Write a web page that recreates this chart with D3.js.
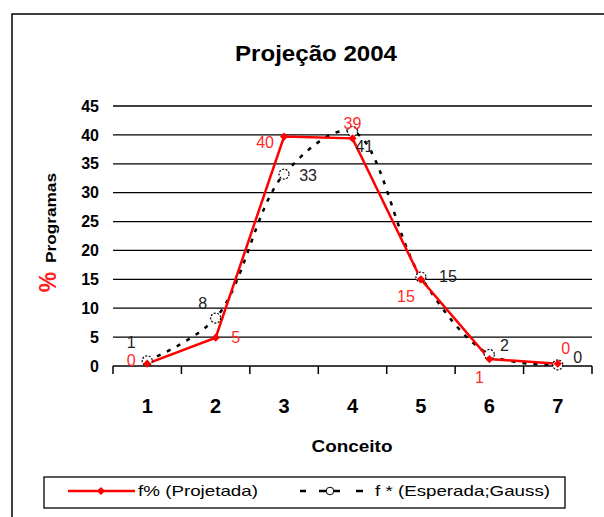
<!DOCTYPE html>
<html lang="pt">
<head>
    <meta charset="UTF-8">
    <title>Projeção 2004</title>
    <script src="https://d3js.org/d3.v7.min.js"></script>
    <style>
        body { margin: 0; padding: 0; background: #fff; }
        svg { display: block; font-family: "Liberation Sans", Arial, sans-serif; }
    </style>
</head>
<body>
<svg id="chart" width="604" height="517"></svg>
<script>
    // Chart data
    var conceitos = ["1", "2", "3", "4", "5", "6", "7"];
    var projetada = [0.4, 4.9, 39.7, 39.4, 15.0, 1.2, 0.4];   // f% (Projetada)
    var esperada  = [0.9, 8.3, 33.2, 40.6, 15.4, 2.0, 0.2];   // f* (Esperada;Gauss)
    var yTicks = [0, 5, 10, 15, 20, 25, 30, 35, 40, 45];

    // label offsets (px) for the value labels
    var redOff   = [[-16, -3], [20, 0], [-19, 6], [0, -15], [-15, 17], [-10, 18], [8, -15]];
    var blackOff = [[-16, -18], [-13, -15], [24, 1], [12, 15], [27, -1], [15, -9], [20, -7]];

    var svg = d3.select("#chart");

    // outer frame (runs past the window on the right and bottom)
    svg.append("rect")
        .attr("x", 12).attr("y", 14)
        .attr("width", 700).attr("height", 600)
        .attr("fill", "none").attr("stroke", "#000").attr("stroke-width", 1.5);

    svg.append("text")
        .attr("x", 316).attr("y", 61)
        .attr("text-anchor", "middle")
        .attr("font-size", 22).attr("font-weight", "bold")
        .attr("textLength", 162).attr("lengthAdjust", "spacingAndGlyphs")
        .text("Projeção 2004");

    var plotLeft = 113, plotRight = 592, plotTop = 106, plotBottom = 366;

    var x = d3.scaleBand().domain(conceitos).range([plotLeft, plotRight]);
    var y = d3.scaleLinear().domain([0, 45]).range([plotBottom, plotTop]);
    var cx = function(i) { return x(conceitos[i]) + x.bandwidth() / 2; };

    // gridlines
    svg.append("g").selectAll("line")
        .data(yTicks.slice(1))
        .enter().append("line")
        .attr("x1", plotLeft).attr("x2", plotRight)
        .attr("y1", function(d) { return y(d); })
        .attr("y2", function(d) { return y(d); })
        .attr("stroke", "#000").attr("stroke-width", 1.3);

    // y axis labels
    var yAxis = d3.axisLeft(y).tickValues(yTicks).tickSize(0).tickPadding(0);
    var gy = svg.append("g").attr("transform", "translate(" + (plotLeft - 14) + ",0)").call(yAxis);
    gy.select(".domain").remove();
    gy.selectAll("text")
        .attr("font-size", 16).attr("font-weight", "bold")
        .attr("font-family", "Liberation Sans, Arial, sans-serif")
        .attr("fill", "#000");

    // x axis with ticks between categories
    svg.append("line")
        .attr("x1", plotLeft).attr("x2", plotRight)
        .attr("y1", plotBottom).attr("y2", plotBottom)
        .attr("stroke", "#000").attr("stroke-width", 1.5);
    var bounds = conceitos.map(function(c) { return x(c); }).concat([plotRight]);
    svg.append("g").selectAll("line")
        .data(bounds)
        .enter().append("line")
        .attr("x1", function(d) { return d; }).attr("x2", function(d) { return d; })
        .attr("y1", plotBottom).attr("y2", plotBottom + 8)
        .attr("stroke", "#000").attr("stroke-width", 1.5);
    svg.append("g").selectAll("text")
        .data(conceitos)
        .enter().append("text")
        .attr("x", function(d, i) { return cx(i); })
        .attr("y", 413)
        .attr("text-anchor", "middle")
        .attr("font-size", 20).attr("font-weight", "bold")
        .text(function(d) { return d; });

    svg.append("text")
        .attr("x", 352).attr("y", 452)
        .attr("text-anchor", "middle")
        .attr("font-size", 17).attr("font-weight", "bold")
        .attr("textLength", 81).attr("lengthAdjust", "spacingAndGlyphs")
        .text("Conceito");

    // y title
    svg.append("text")
        .attr("transform", "translate(56,282) rotate(-90)")
        .attr("text-anchor", "middle")
        .attr("font-size", 23).attr("font-weight", "bold")
        .attr("fill", "#ff2020")
        .text("%");
    svg.append("text")
        .attr("transform", "translate(56,218) rotate(-90)")
        .attr("text-anchor", "middle")
        .attr("font-size", 14).attr("font-weight", "bold")
        .attr("textLength", 90).attr("lengthAdjust", "spacingAndGlyphs")
        .text("Programas");

    // Gauss curve (smoothed, dashed)
    var lineG = d3.line()
        .x(function(d, i) { return cx(i); })
        .y(function(d) { return y(d); })
        .curve(d3.curveCatmullRom.alpha(0.5));
    svg.append("path")
        .datum(esperada)
        .attr("d", lineG)
        .attr("fill", "none").attr("stroke", "#000")
        .attr("stroke-width", 2.5).attr("stroke-dasharray", "4,7");

    // projected line
    var lineP = d3.line()
        .x(function(d, i) { return cx(i); })
        .y(function(d) { return y(d); });
    svg.append("path")
        .datum(projetada)
        .attr("d", lineP)
        .attr("fill", "none").attr("stroke", "#ff0000").attr("stroke-width", 2.5);

    // markers
    svg.append("g").selectAll("circle")
        .data(esperada)
        .enter().append("circle")
        .attr("cx", function(d, i) { return cx(i); })
        .attr("cy", function(d) { return y(d); })
        .attr("r", 5)
        .attr("fill", "#fff").attr("stroke", "#000")
        .attr("stroke-width", 1.2).attr("stroke-dasharray", "2,1.5");

    var diamond = d3.symbol().type(d3.symbolSquare).size(34);
    svg.append("g").selectAll("path")
        .data(projetada)
        .enter().append("path")
        .attr("d", diamond)
        .attr("transform", function(d, i) { return "translate(" + cx(i) + "," + y(d) + ") rotate(45)"; })
        .attr("fill", "#ff0000");

    // value labels
    var fmt = d3.format(".0f");
    svg.append("g").selectAll("text")
        .data(esperada)
        .enter().append("text")
        .attr("x", function(d, i) { return cx(i) + blackOff[i][0]; })
        .attr("y", function(d, i) { return y(d) + blackOff[i][1]; })
        .attr("text-anchor", "middle").attr("dominant-baseline", "central")
        .attr("font-size", 16).attr("fill", "#222")
        .text(function(d) { return fmt(d); });
    svg.append("g").selectAll("text")
        .data(projetada)
        .enter().append("text")
        .attr("x", function(d, i) { return cx(i) + redOff[i][0]; })
        .attr("y", function(d, i) { return y(d) + redOff[i][1]; })
        .attr("text-anchor", "middle").attr("dominant-baseline", "central")
        .attr("font-size", 16).attr("fill", "#ff2a2a")
        .text(function(d) { return fmt(d); });

    // legend
    var lg = svg.append("g");
    lg.append("rect")
        .attr("x", 44).attr("y", 477).attr("width", 521).attr("height", 31)
        .attr("fill", "#fff").attr("stroke", "#000").attr("stroke-width", 1.3);
    lg.append("line")
        .attr("x1", 68).attr("x2", 135).attr("y1", 491).attr("y2", 491)
        .attr("stroke", "#ff0000").attr("stroke-width", 2.5);
    lg.append("path").attr("d", diamond).attr("transform", "translate(101,491) rotate(45)").attr("fill", "#ff0000");
    lg.append("text").attr("x", 138).attr("y", 496).attr("font-size", 15)
        .attr("textLength", 120).attr("lengthAdjust", "spacingAndGlyphs")
        .text("f% (Projetada)");
    lg.append("line")
        .attr("x1", 300).attr("x2", 363).attr("y1", 491).attr("y2", 491)
        .attr("stroke", "#000").attr("stroke-width", 2.5).attr("stroke-dasharray", "6,13,21,16,7");
    lg.append("circle").attr("cx", 330).attr("cy", 491).attr("r", 3.8)
        .attr("fill", "#fff").attr("stroke", "#000").attr("stroke-width", 1);
    lg.append("text").attr("x", 375).attr("y", 496).attr("font-size", 15)
        .attr("textLength", 175).attr("lengthAdjust", "spacingAndGlyphs")
        .text("f * (Esperada;Gauss)");
</script>
</body>
</html>
